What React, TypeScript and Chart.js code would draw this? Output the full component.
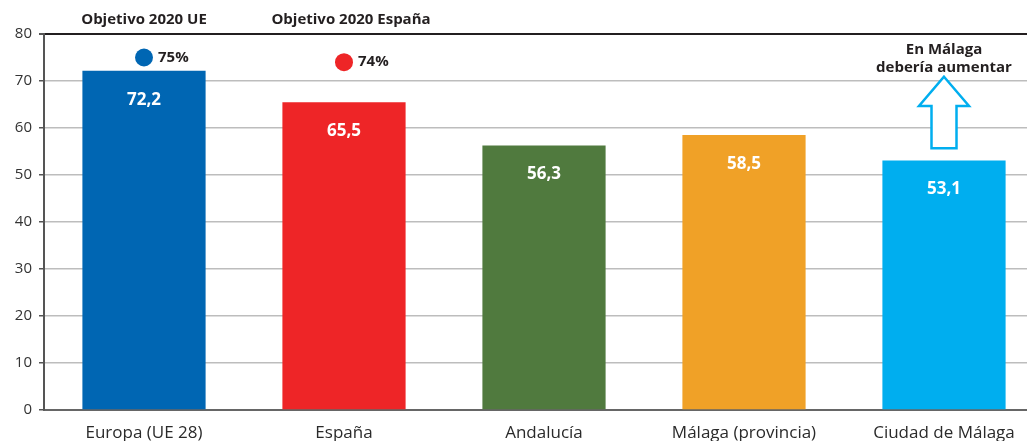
import React, { useEffect, useRef } from "react";
import { Chart, registerables } from "chart.js";

Chart.register(...registerables);

const categories = ["Europa (UE 28)", "España", "Andalucía", "Málaga (provincia)", "Ciudad de Málaga"];
const values = [72.2, 65.5, 56.3, 58.5, 53.1];
const valueLabels = ["72,2", "65,5", "56,3", "58,5", "53,1"];
const barColors = ["#0066b3", "#ee2527", "#507a3e", "#f0a127", "#00aeef"];
const targets = [75, 74, null, null, null];
const targetLabels = ["75%", "74%", "", "", ""];
const targetColors = ["#0066b3", "#ee2527", "#fff", "#fff", "#fff"];
const headers = ["Objetivo 2020 UE", "Objetivo 2020 España", "", "", ""];
const arrowNote = ["En Málaga", "debería aumentar"];
const arrowIndex = 4;
const arrowValues = { tip: 70.9, headBase: 64.7, bottom: 55.7 };
const yTicks = [0, 10, 20, 30, 40, 50, 60, 70, 80];

const FONT = "'Open Sans', 'Noto Sans', sans-serif";

const overlay = {
  id: "overlay",
  afterDatasetsDraw(chart: any) {
    const ctx = chart.ctx;
    const x = chart.scales.x;
    const y = chart.scales.y;
    ctx.save();
    // bar value labels
    ctx.fillStyle = "#ffffff";
    ctx.font = `bold 17px ${FONT}`;
    ctx.textAlign = "center";
    ctx.textBaseline = "middle";
    values.forEach((v, i) => {
      ctx.fillText(valueLabels[i], x.getPixelForValue(i), y.getPixelForValue(v) + 29);
    });
    // target labels
    ctx.fillStyle = "#231f20";
    ctx.font = `bold 15px ${FONT}`;
    ctx.textAlign = "left";
    targets.forEach((t, i) => {
      if (t == null) return;
      ctx.fillText(targetLabels[i], x.getPixelForValue(i) + 14, y.getPixelForValue(t));
    });
    // headers
    ctx.textAlign = "center";
    headers.forEach((h, i) => {
      if (!h) return;
      ctx.fillText(h, x.getPixelForValue(i) + (i === 1 ? 7 : 0), 20);
    });
    // arrow note
    const ax = x.getPixelForValue(arrowIndex);
    ctx.font = `bold 15px ${FONT}`;
    ctx.fillText(arrowNote[0], ax, 50);
    ctx.fillText(arrowNote[1], ax, 68);
    // arrow
    const tipY = y.getPixelForValue(arrowValues.tip);
    const baseY = y.getPixelForValue(arrowValues.headBase);
    const botY = y.getPixelForValue(arrowValues.bottom);
    ctx.beginPath();
    ctx.moveTo(ax, tipY);
    ctx.lineTo(ax + 25, baseY);
    ctx.lineTo(ax + 12.5, baseY);
    ctx.lineTo(ax + 12.5, botY);
    ctx.lineTo(ax - 12.5, botY);
    ctx.lineTo(ax - 12.5, baseY);
    ctx.lineTo(ax - 25, baseY);
    ctx.closePath();
    ctx.fillStyle = "#ffffff";
    ctx.fill();
    ctx.strokeStyle = "#00aeef";
    ctx.lineWidth = 2.5;
    ctx.stroke();
    ctx.restore();
  },
};

export default function App() {
  const ref = useRef<HTMLCanvasElement | null>(null);
  useEffect(() => {
    if (!ref.current) return;
    const chart = new Chart(ref.current, {
      type: "bar",
      data: {
        labels: categories,
        datasets: [
          {
            type: "line",
            data: targets as any,
            showLine: false,
            pointRadius: 9,
            pointHoverRadius: 9,
            pointBackgroundColor: targetColors,
            pointBorderWidth: 0,
            borderColor: "transparent",
            order: 0,
          } as any,
          {
            type: "bar",
            data: values,
            backgroundColor: barColors,
            barPercentage: 0.616,
            categoryPercentage: 1,
            order: 1,
          },
        ],
      },
      options: {
        responsive: false,
        animation: false,
        layout: { padding: { top: 34, right: 16, left: 0, bottom: 0 } },
        plugins: { legend: { display: false }, tooltip: { enabled: false } },
        scales: {
          x: {
            offset: true,
            grid: { display: false },
            border: { color: "#666", width: 2 },
            ticks: { color: "#2a2a2a", font: { family: FONT, size: 17 }, padding: 5 },
            afterFit: (s: any) => { s.height = 31; },
          },
          y: {
            min: 0,
            max: 80,
            afterBuildTicks: (s: any) => { s.ticks = yTicks.map((v) => ({ value: v })); },
            grid: {
              color: (c: any) => (c.tick && c.tick.value === 80 ? "#231f20" : "#bdbdbd"),
              lineWidth: (c: any) => (c.tick && c.tick.value === 80 ? 2 : 1.5),
              tickColor: "#555",
              tickLength: 5,
            },
            border: { color: "#555", width: 2 },
            ticks: { color: "#333", font: { family: FONT, size: 15 }, padding: 7 },
            afterFit: (s: any) => { s.width = 44; },
          },
        },
      },
      plugins: [overlay],
    });
    return () => chart.destroy();
  }, []);
  return (
    <div style={{ position: "absolute", left: 0, top: 0, width: 1027, height: 441, overflow: "hidden", background: "#fff" }}>
      <canvas ref={ref} width={1060} height={441} style={{ display: "block" }} />
    </div>
  );
}
